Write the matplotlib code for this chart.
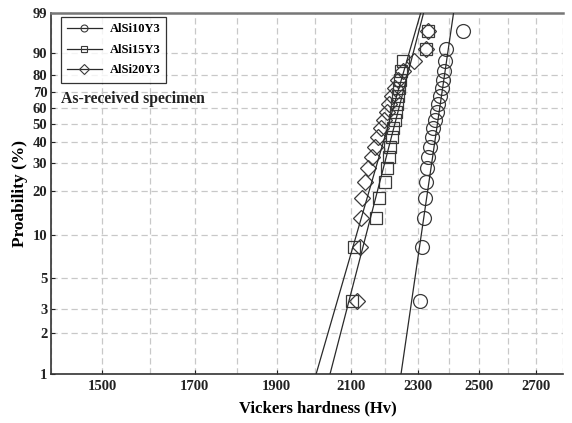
import numpy as np
import matplotlib
matplotlib.use("Agg")
import matplotlib.pyplot as plt
from matplotlib.lines import Line2D

# ---- data ----
prob = [3.43, 8.33, 13.24, 18.14, 23.04, 27.94, 32.84, 37.75, 42.65, 47.55,
        52.45, 57.35, 62.25, 67.16, 72.06, 76.96, 81.86, 86.76, 91.67, 96.57]

hv_10 = [2307, 2313, 2318, 2321, 2326, 2329, 2332, 2339, 2345, 2348,
         2355, 2361, 2364, 2370, 2377, 2380, 2384, 2387, 2390, 2446]
hv_15 = [2103, 2108, 2174, 2182, 2200, 2206, 2212, 2215, 2221, 2224,
         2230, 2233, 2236, 2239, 2242, 2245, 2249, 2255, 2326, 2332]
hv_20 = [2118, 2127, 2130, 2133, 2141, 2150, 2162, 2171, 2179, 2188,
         2197, 2206, 2212, 2221, 2230, 2239, 2255, 2289, 2326, 2332]

labels = ["AlSi10Y3", "AlSi15Y3", "AlSi20Y3"]
weib_m = [86.0, 48.3, 43.2]       # Weibull modulus of fit lines
weib_x0 = [2371.6, 2246.0, 2229.0]  # scale parameter of fit lines

xticks = [1500, 1700, 1900, 2100, 2300, 2500, 2700]
yticks = [1, 2, 3, 5, 10, 20, 30, 40, 50, 60, 70, 80, 90, 99]

# ---- plot ----
plt.rcParams['font.family'] = ['Liberation Serif', 'DejaVu Serif']
plt.rcParams['font.weight'] = 'bold'

fig = plt.figure(figsize=(5.72, 4.23), dpi=100)
ax = fig.add_axes([0.0899, 0.1158, 0.8945, 0.8546])


def fwd(p):
    p = np.clip(np.asarray(p, dtype=float), 1e-6, 99.99999)
    return np.log(-np.log(1 - p / 100.0))


def inv(w):
    return 100.0 * (1 - np.exp(-np.exp(np.asarray(w, dtype=float))))


ax.set_xscale('log')
ax.set_yscale('function', functions=(fwd, inv))
ax.set_xlim(1400, 2800)
ax.set_ylim(1, 99)

ec = '#3a3a3a'
series = [(hv_10, 'o', 10), (hv_15, 's', 9), (hv_20, 'D', 8)]
for (hv, mk, ms), m, x0 in zip(series, weib_m, weib_x0):
    ax.plot(hv, prob, linestyle='none', marker=mk, markersize=ms,
            markerfacecolor='none', markeredgecolor=ec, markeredgewidth=0.9,
            zorder=3)
    Fend = np.array([0.5, 99.7])
    xl = x0 * (-np.log(1 - Fend / 100.0)) ** (1.0 / m)
    ax.plot(xl, Fend, color='#2a2a2a', lw=0.9, zorder=4)

ax.xaxis.set_major_locator(matplotlib.ticker.FixedLocator(xticks))
ax.xaxis.set_major_formatter(matplotlib.ticker.FixedFormatter([str(t) for t in xticks]))
ax.xaxis.set_minor_locator(matplotlib.ticker.FixedLocator(np.arange(1400, 2801, 100)))
ax.xaxis.set_minor_formatter(matplotlib.ticker.NullFormatter())
ax.yaxis.set_major_locator(matplotlib.ticker.FixedLocator(yticks))
ax.yaxis.set_major_formatter(matplotlib.ticker.FixedFormatter([str(t) for t in yticks]))
ax.yaxis.set_minor_locator(matplotlib.ticker.NullLocator())

ax.grid(True, which='both', axis='x', color='#c8c8c8', linestyle=(0, (5, 3)), lw=0.9)
ax.grid(True, which='major', axis='y', color='#c8c8c8', linestyle=(0, (5, 3)), lw=0.9)
ax.set_axisbelow(True)

ax.tick_params(axis='both', which='major', direction='in', length=3, width=0.8,
               labelsize=10.5, colors='#222222')
ax.tick_params(axis='x', which='minor', length=0)
ax.tick_params(axis='x', pad=4)
ax.tick_params(axis='y', pad=3)

for side in ['left', 'bottom']:
    ax.spines[side].set_color('#333333')
    ax.spines[side].set_linewidth(1.2)
ax.spines['top'].set_color('#777777')
ax.spines['top'].set_linewidth(1.8)
ax.spines['right'].set_visible(False)

ax.set_xlabel('Vickers hardness (Hv)', fontsize=12, fontweight='bold')
ax.xaxis.set_label_coords(0.52, -0.073)
ax.set_ylabel('Proability (%)', fontsize=12.5, fontweight='bold', labelpad=3)

handles = [Line2D([], [], color='#2a2a2a', lw=0.9, marker=mk, markersize=5,
                  markerfacecolor='none', markeredgecolor=ec, markeredgewidth=0.8)
           for (_, mk, _) in series]
leg = ax.legend(handles, labels, loc='upper left', bbox_to_anchor=(0.018, 0.987),
                fontsize=9, frameon=True, fancybox=False, edgecolor='black',
                handlelength=2.8, handletextpad=0.6, borderpad=0.5,
                labelspacing=0.68, borderaxespad=0.0)
leg.get_frame().set_linewidth(0.9)

ax.text(0.019, 0.762, 'As-received specimen', transform=ax.transAxes,
        fontsize=11.3, fontweight='bold', va='center', ha='left', color='#222222')

fig.savefig('out.png', dpi=100)
